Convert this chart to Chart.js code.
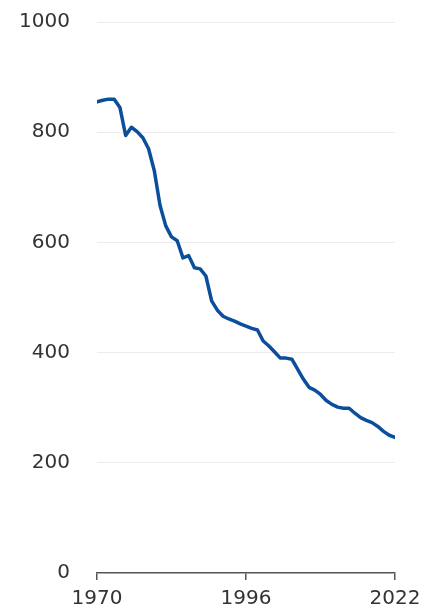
<!DOCTYPE html>
<html>
<head>
<meta charset="utf-8">
<script src="https://cdn.jsdelivr.net/npm/chart.js@4"></script>
<style>
    html, body { margin: 0; padding: 0; background: #fff; }
    #wrap { width: 423px; height: 611px; }
</style>
</head>
<body>
<div id="wrap"><canvas id="ChartLine"></canvas></div>
<script>
// Data
const years = [];
for (let y = 1970; y <= 2022; y++) years.push(y);

const values = [
    855, 858, 860, 860, 845, 794, 809, 801, 790, 770,
    730, 667, 630, 610, 603, 572, 576, 554, 552, 539,
    494, 477, 466, 461, 457, 452, 448, 444, 441, 421,
    412, 401, 390, 390, 388, 370, 352, 337, 332, 324,
    313, 306, 301, 299, 299, 290, 282, 277, 273, 266,
    257, 250, 246
];

const xTicks = [1970, 1996, 2022];
const yTicks = [0, 200, 400, 600, 800, 1000];

// Colors
const line_blue = '#0b4f9c';
const text_gray = '#333333';
const grid_gray = '#ececec';
const axis_gray = '#555555';

const ctx = document.getElementById('ChartLine').getContext('2d');
new Chart(ctx, {
    type: 'line',
    data: {
        datasets: [{
            data: years.map((y, i) => ({ x: y, y: values[i] })),
            borderColor: line_blue,
            borderWidth: 3.5,
            pointRadius: 0,
            tension: 0,
            borderJoinStyle: 'round',
            borderCapStyle: 'round'
        }]
    },
    options: {
        responsive: true,
        maintainAspectRatio: false,
        animation: false,
        layout: {
            padding: { top: 22, right: 28, left: 0, bottom: 0 }
        },
        scales: {
            x: {
                type: 'linear',
                min: 1970,
                max: 2022,
                afterBuildTicks: (axis) => { axis.ticks = xTicks.map(v => ({ value: v })); },
                afterFit: (axis) => {
                    axis.height = 38;
                    axis.paddingLeft = 0;
                    axis.paddingRight = 0;
                },
                border: { display: true, color: axis_gray, width: 1.5 },
                grid: {
                    display: true,
                    drawOnChartArea: false,
                    drawTicks: true,
                    tickLength: 7,
                    color: axis_gray,
                    lineWidth: 1.5
                },
                ticks: {
                    color: text_gray,
                    font: { family: 'DejaVu Sans', size: 20 },
                    padding: 7,
                    maxRotation: 0,
                    autoSkip: false,
                    callback: (v) => String(v)
                }
            },
            y: {
                min: 0,
                max: 1000,
                afterBuildTicks: (axis) => { axis.ticks = yTicks.map(v => ({ value: v })); },
                afterFit: (axis) => {
                    axis.width = 97;
                    axis.paddingTop = 0;
                    axis.paddingBottom = 0;
                },
                border: { display: false },
                grid: {
                    drawTicks: false,
                    color: (c) => c.tick && c.tick.value === 0 ? 'rgba(0,0,0,0)' : grid_gray,
                    lineWidth: 1
                },
                ticks: {
                    color: text_gray,
                    font: { family: 'DejaVu Sans', size: 20 },
                    padding: 27,
                    callback: (v) => String(v)
                }
            }
        },
        plugins: {
            legend: { display: false },
            tooltip: { enabled: false }
        }
    }
});
</script>
</body>
</html>
